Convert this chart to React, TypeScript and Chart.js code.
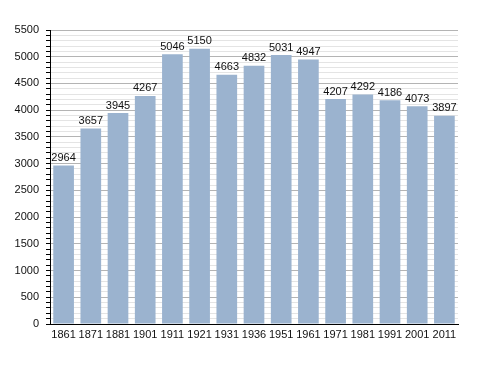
import React, { useEffect, useRef } from "react";
import { Chart, registerables } from "chart.js";

Chart.register(...registerables);

const years = ["1861", "1871", "1881", "1901", "1911", "1921", "1931", "1936", "1951", "1961", "1971", "1981", "1991", "2001", "2011"];
const population = [2964, 3657, 3945, 4267, 5046, 5150, 4663, 4832, 5031, 4947, 4207, 4292, 4186, 4073, 3897];
const yMax = 5500;
const yStep = 100;
const yLabelStep = 500;

const FONT = "'Liberation Sans', Arial, sans-serif";

const valueLabels = {
  id: "valueLabels",
  afterDatasetsDraw(chart: any) {
    const ctx = chart.ctx;
    const meta = chart.getDatasetMeta(0);
    ctx.save();
    ctx.font = `11px ${FONT}`;
    ctx.fillStyle = "#111";
    ctx.textAlign = "center";
    ctx.textBaseline = "bottom";
    meta.data.forEach((bar: any, i: number) => {
      ctx.fillText(String(population[i]), bar.x, bar.y - 2);
    });
    ctx.restore();
  },
};

export default function App() {
  const ref = useRef<HTMLCanvasElement | null>(null);
  useEffect(() => {
    if (!ref.current) return;
    const chart = new Chart(ref.current, {
      type: "bar",
      data: {
        labels: years,
        datasets: [
          {
            data: population,
            backgroundColor: "#9bb3cf",
            borderWidth: 0,
            barPercentage: 0.76,
            categoryPercentage: 1,
          },
        ],
      },
      options: {
        animation: false,
        responsive: false,
        maintainAspectRatio: false,
        layout: { padding: { top: 30, right: 30, left: 0, bottom: 0 } },
        plugins: { legend: { display: false }, tooltip: { enabled: false } },
        scales: {
          x: {
            grid: { display: false, drawTicks: false },
            border: { color: "#000", width: 1 },
            ticks: { color: "#111", font: { family: FONT, size: 11 }, maxRotation: 0, autoSkip: false, padding: 4 },
            afterFit: (s: any) => { s.height = 49; },
          },
          y: {
            min: 0,
            max: yMax,
            border: { color: "#000", width: 1 },
            grid: {
              color: (c: any) => (c.tick && c.tick.value % yLabelStep === 0 ? "#b4b4b4" : "#e4e4e4"),
              tickColor: "#000",
              tickLength: 4,
              drawTicks: true,
            },
            ticks: {
              stepSize: yStep,
              autoSkip: false,
              color: "#111",
              font: { family: FONT, size: 11 },
              padding: 7,
              callback: (v: any) => (Number(v) % yLabelStep === 0 ? String(v) : ""),
            },
            afterFit: (s: any) => { s.width = 50; },
          },
        },
      },
      plugins: [valueLabels],
    });
    return () => chart.destroy();
  }, []);
  return (
    <div style={{ position: "fixed", left: 0, top: 0, width: 488, height: 373, background: "#fff" }}>
      <canvas ref={ref} width={488} height={373} style={{ width: 488, height: 373 }} />
    </div>
  );
}
